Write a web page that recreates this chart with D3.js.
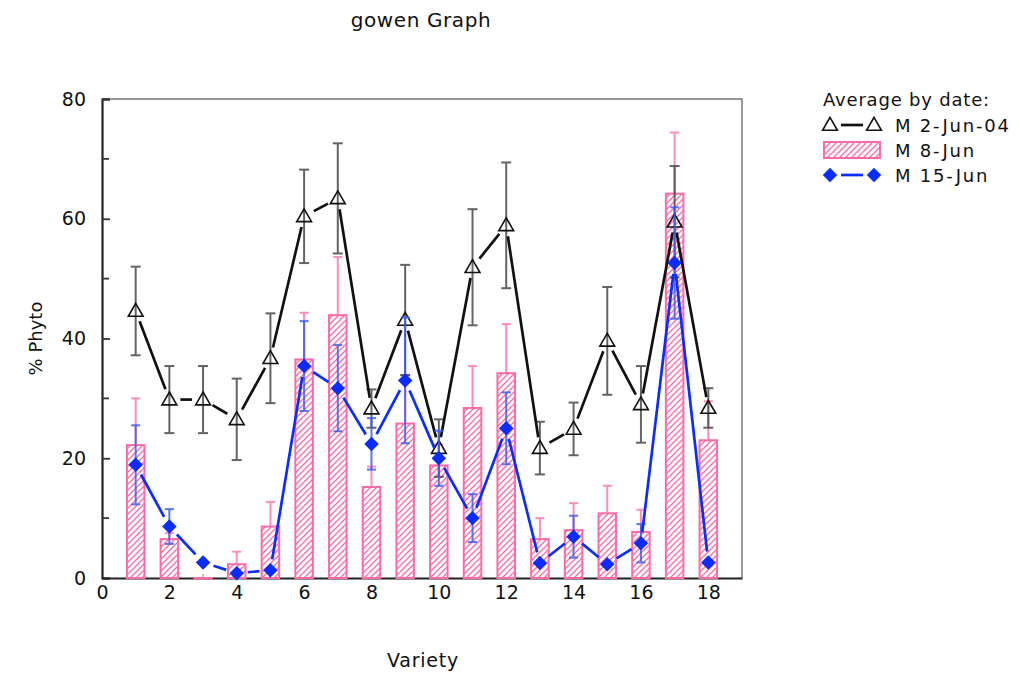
<!DOCTYPE html>
<html>
<head>
<meta charset="utf-8">
<script src="https://cdn.jsdelivr.net/npm/d3@7"></script>
<style>
  body { margin: 0; background: #fff; }
  text { font-family: "DejaVu Sans", sans-serif; fill: #111; }
</style>
</head>
<body>
<div id="chart"></div>
<script>
// values
var variety = [1, 2, 3, 4, 5, 6, 7, 8, 9, 10, 11, 12, 13, 14, 15, 16, 17, 18];

var jun2 = [44.6, 29.8, 29.8, 26.5, 36.7, 60.4, 63.4, 28.3, 43.1, 21.7, 51.9, 58.9, 21.7, 24.9, 39.6, 29.0, 59.5, 28.4];
var jun2Err = [7.4, 5.6, 5.6, 6.8, 7.5, 7.8, 9.2, 3.2, 9.2, 4.8, 9.7, 10.5, 4.4, 4.4, 9.0, 6.4, 9.3, 3.3];

var jun8 = [22.2, 6.5, 0, 2.3, 8.6, 36.5, 43.9, 15.2, 25.8, 18.8, 28.4, 34.2, 6.5, 8.0, 10.8, 7.7, 64.2, 23.0];
var jun8Err = [7.8, 1.0, 0, 2.1, 4.1, 7.8, 9.7, 3.4, 8.0, 3.5, 7.0, 8.2, 3.5, 4.5, 4.6, 3.7, 10.2, 6.5];

var jun15 = [18.9, 8.6, 2.6, 0.8, 1.3, 35.4, 31.7, 22.4, 33.0, 20.0, 10.0, 25.0, 2.5, 6.9, 2.3, 5.8, 52.6, 2.6];
var jun15Err = [6.6, 2.9, 0, 0, 0, 7.5, 7.2, 4.3, 10.5, 4.6, 4.0, 6.0, 0, 3.5, 0, 3.2, 9.3, 0];

var yTicks = [0, 20, 40, 60, 80];
var yMinor = [10, 30, 50, 70];
var xTicks = [0, 2, 4, 6, 8, 10, 12, 14, 16, 18];

var legendTitle = "Average by date:";
var seriesNames = ["M 2-Jun-04", "M 8-Jun", "M 15-Jun"];

var svgWidth = 1020, svgHeight = 675;
var plotLeft = 102, plotRight = 742, plotTop = 99, plotBottom = 578;

var pink = "#ff6aa6", pinkErr = "#ff78b2", blue = "#0a2cff", blueErr = "#3f5cf2", grayErr = "#4a4a4a";

var svg = d3.select("#chart").append("svg")
  .attr("width", svgWidth)
  .attr("height", svgHeight);

var defs = svg.append("defs");
var hatch = defs.append("pattern")
  .attr("id", "hatch")
  .attr("patternUnits", "userSpaceOnUse")
  .attr("width", 6).attr("height", 6);
hatch.append("rect").attr("width", 6).attr("height", 6).attr("fill", "#fff");
hatch.append("path")
  .attr("d", "M-1,1 l2,-2 M0,6 l6,-6 M5,7 l2,-2")
  .attr("stroke", pink).attr("stroke-width", 1.3);

var x = d3.scaleLinear().domain([0, 19]).range([plotLeft, plotRight]);
var y = d3.scaleLinear().domain([0, 80]).range([plotBottom, plotTop]);

// frame: light top/right, dark left/bottom
svg.append("path")
  .attr("d", `M${plotLeft},${plotTop}H${plotRight}V${plotBottom}`)
  .attr("fill", "none").attr("stroke", "#777").attr("stroke-width", 1.5);

// axes
var yAxis = d3.axisLeft(y).tickValues(yTicks).tickSize(-8).tickPadding(16).tickFormat(d3.format("d"));
var gy = svg.append("g").attr("transform", `translate(${plotLeft},0)`).call(yAxis);
gy.select(".domain").attr("stroke", "#222").attr("stroke-width", 2.2);
gy.selectAll(".tick line").attr("stroke", "#333").attr("stroke-width", 1.8);
gy.selectAll(".tick text").attr("font-size", 19).attr("fill", "#111");
gy.selectAll(".minor").data(yMinor).enter().append("line")
  .attr("x1", 0).attr("x2", 7)
  .attr("y1", d => y(d)).attr("y2", d => y(d))
  .attr("stroke", "#333").attr("stroke-width", 1.8);

var xAxis = d3.axisBottom(x).tickValues(xTicks).tickSize(0).tickPadding(8).tickFormat(d3.format("d"));
var gx = svg.append("g").attr("transform", `translate(0,${plotBottom})`).call(xAxis);
gx.select(".domain").attr("stroke", "#222").attr("stroke-width", 2.2);
gx.selectAll(".tick text").attr("font-size", 19).attr("fill", "#111");
gx.selectAll(".itick").data(variety).enter().append("line")
  .attr("x1", d => x(d)).attr("x2", d => x(d))
  .attr("y1", -1).attr("y2", -4)
  .attr("stroke", "#888").attr("stroke-width", 1);

// bars for 8-Jun
var barW = x(0.52) - x(0);
svg.append("g").selectAll("rect")
  .data(variety)
  .enter().append("rect")
  .attr("x", (d, i) => x(d) - barW / 2)
  .attr("y", (d, i) => y(jun8[i]))
  .attr("width", barW)
  .attr("height", (d, i) => Math.max(0.5, y(0) - y(jun8[i])))
  .attr("fill", "url(#hatch)")
  .attr("stroke", pink).attr("stroke-width", 2);

// error bars helper
function errBars(vals, errs, color, both, capW) {
  var g = svg.append("g").attr("stroke", color).attr("stroke-width", 2).attr("opacity", 0.85);
  variety.forEach(function(d, i) {
    if (!errs[i]) return;
    var lo = both ? vals[i] - errs[i] : vals[i];
    var hi = vals[i] + errs[i];
    g.append("line").attr("x1", x(d)).attr("x2", x(d)).attr("y1", y(lo)).attr("y2", y(hi));
    g.append("line").attr("x1", x(d) - capW / 2).attr("x2", x(d) + capW / 2).attr("y1", y(hi)).attr("y2", y(hi));
    if (both) g.append("line").attr("x1", x(d) - capW / 2).attr("x2", x(d) + capW / 2).attr("y1", y(lo)).attr("y2", y(lo));
  });
}

// segments stop short of the markers
function gappedLine(pts, color, gap) {
  var g = svg.append("g").attr("stroke", color).attr("stroke-width", 2.7).attr("stroke-linecap", "butt");
  for (var i = 0; i < pts.length - 1; i++) {
    var a = pts[i], b = pts[i + 1];
    var dx = b[0] - a[0], dy = b[1] - a[1], len = Math.sqrt(dx * dx + dy * dy);
    if (len <= 2 * gap + 1) continue;
    var ux = dx / len, uy = dy / len;
    g.append("line")
      .attr("x1", a[0] + ux * gap).attr("y1", a[1] + uy * gap)
      .attr("x2", b[0] - ux * gap).attr("y2", b[1] - uy * gap);
  }
}

var triangle = d3.symbol().type(d3.symbolTriangle).size(95);
var diamond = d3.symbol().type(d3.symbolSquare).size(105);

errBars(jun8, jun8Err, pinkErr, false, 9);
errBars(jun2, jun2Err, grayErr, true, 10);

gappedLine(variety.map((d, i) => [x(d), y(jun2[i])]), "#111", 11);
svg.append("g").selectAll("path")
  .data(variety)
  .enter().append("path")
  .attr("d", triangle)
  .attr("transform", (d, i) => `translate(${x(d)},${y(jun2[i]) + 1})`)
  .attr("fill", "none").attr("stroke", "#111").attr("stroke-width", 1.6);

errBars(jun15, jun15Err, blueErr, true, 9);
gappedLine(variety.map((d, i) => [x(d), y(jun15[i])]), blue, 11);
svg.append("g").selectAll("path")
  .data(variety)
  .enter().append("path")
  .attr("d", diamond)
  .attr("transform", (d, i) => `translate(${x(d)},${y(jun15[i])}) rotate(45)`)
  .attr("fill", blue);

// labels
svg.append("text")
  .attr("x", 421).attr("y", 27)
  .attr("text-anchor", "middle")
  .attr("font-size", 20)
  .attr("letter-spacing", 0.6)
  .text("gowen Graph");

svg.append("text")
  .attr("x", 423).attr("y", 667)
  .attr("text-anchor", "middle")
  .attr("font-size", 19)
  .attr("letter-spacing", 0.8)
  .text("Variety");

svg.append("text")
  .attr("transform", `translate(42, ${(plotTop + plotBottom) / 2}) rotate(-90)`)
  .attr("text-anchor", "middle")
  .attr("font-size", 18)
  .text("% Phyto");

// legend
var lg = svg.append("g").attr("transform", "translate(823,0)");
lg.append("text").attr("x", 0).attr("y", 106).attr("font-size", 18)
  .attr("letter-spacing", 0.8).text(legendTitle);

var rowY = [125, 150, 175];
lg.selectAll(".lbl").data(seriesNames).enter().append("text")
  .attr("x", 72).attr("y", (d, i) => rowY[i] + 7)
  .attr("font-size", 18)
  .attr("letter-spacing", 1.8)
  .text(d => d);

lg.append("line").attr("x1", 18).attr("x2", 40).attr("y1", rowY[0]).attr("y2", rowY[0])
  .attr("stroke", "#111").attr("stroke-width", 2.7);
[7, 51].forEach(function(px) {
  lg.append("path").attr("d", triangle)
    .attr("transform", `translate(${px},${rowY[0] + 1})`)
    .attr("fill", "none").attr("stroke", "#111").attr("stroke-width", 1.6);
});

lg.append("rect").attr("x", 1).attr("y", rowY[1] - 8).attr("width", 56).attr("height", 16)
  .attr("fill", "url(#hatch)").attr("stroke", pink).attr("stroke-width", 2);

lg.append("line").attr("x1", 18).attr("x2", 40).attr("y1", rowY[2]).attr("y2", rowY[2])
  .attr("stroke", blue).attr("stroke-width", 2.7);
[7, 51].forEach(function(px) {
  lg.append("path").attr("d", diamond)
    .attr("transform", `translate(${px},${rowY[2]}) rotate(45)`)
    .attr("fill", blue);
});
</script>
</body>
</html>
